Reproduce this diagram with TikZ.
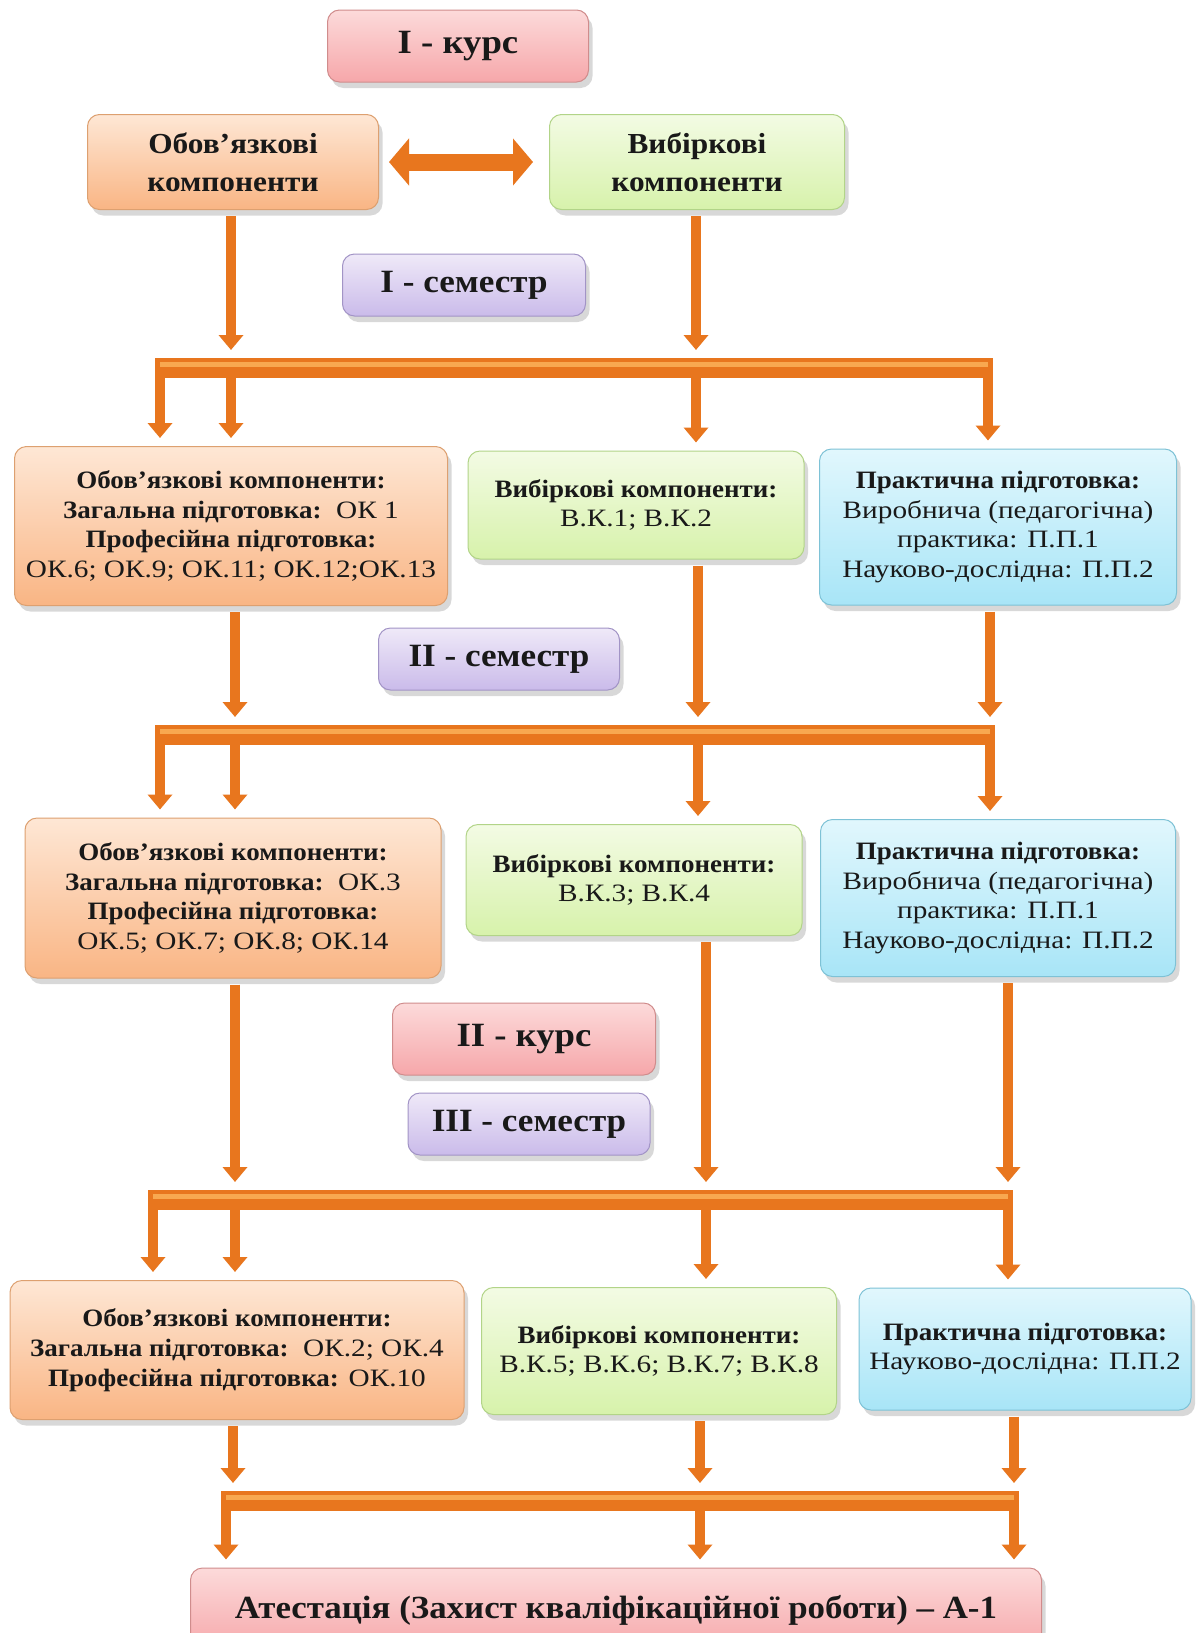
\documentclass[tikz,border=0pt]{standalone}
\usepackage{fontspec}
\setmainfont{Liberation Serif}[UprightFeatures={FakeStretch=1.17}, BoldFeatures={FakeStretch=1.08}]
\usetikzlibrary{arrows.meta, shadows}

\definecolor{pipeorange}{HTML}{E8761E}
\definecolor{pipelight}{HTML}{F8A850}
\definecolor{kurstop}{HTML}{FCDADA}
\definecolor{kursbot}{HTML}{F6A7AA}
\definecolor{kursline}{HTML}{D08C8C}
\definecolor{oktop}{HTML}{FEE7D5}
\definecolor{okbot}{HTML}{F9B584}
\definecolor{okline}{HTML}{DDA070}
\definecolor{vktop}{HTML}{F3FBE4}
\definecolor{vkbot}{HTML}{D7F2AB}
\definecolor{vkline}{HTML}{B2D488}
\definecolor{pptop}{HTML}{E1F7FD}
\definecolor{ppbot}{HTML}{A8E5F7}
\definecolor{ppline}{HTML}{7EC2D6}
\definecolor{semtop}{HTML}{EFE9F8}
\definecolor{sembot}{HTML}{CABBEA}
\definecolor{semline}{HTML}{A294C6}

\tikzstyle{box} = [draw, rounded corners=12pt, line width=1pt, align=center, inner sep=2pt,
	text=black!90, drop shadow={shadow xshift=4pt, shadow yshift=-6pt, opacity=.3}]
\tikzstyle{kurs} = [box, draw=kursline, top color=kurstop, bottom color=kursbot,
	font=\fontsize{34}{40}\selectfont\bfseries]
\tikzstyle{sem} = [box, draw=semline, top color=semtop, bottom color=sembot,
	font=\fontsize{32.5}{40}\selectfont\bfseries]
\tikzstyle{okbox} = [box, draw=okline, top color=oktop, bottom color=okbot,
	font=\fontsize{25}{29.8}\selectfont]
\tikzstyle{vkbox} = [box, draw=vkline, top color=vktop, bottom color=vkbot,
	font=\fontsize{25}{29.8}\selectfont]
\tikzstyle{ppbox} = [box, draw=ppline, top color=pptop, bottom color=ppbot,
	font=\fontsize{25}{29.8}\selectfont]
\tikzstyle{pipe} = [draw=pipeorange, line width=10pt, -{Triangle[width=24pt,length=15pt]}]
\tikzstyle{tobar} = [pipe, shorten <=6pt, shorten >=18pt]
\tikzstyle{tobox} = [pipe, shorten >=8pt]
\tikzstyle{bar} = [draw=pipeorange, line width=20pt, shorten <=-5pt, shorten >=-5pt]
\tikzstyle{shine} = [draw=pipelight, line width=5pt, transform canvas={yshift=4pt}]
\tikzstyle{twoway} = [draw=pipeorange, line width=17pt, shorten <=10pt, shorten >=16pt,
	{Triangle[width=46pt,length=20pt]}-{Triangle[width=46pt,length=20pt]}]

\begin{document}
\begin{tikzpicture}[x=1pt, y=-1pt]
	\clip (0,0) rectangle (1197,1633);
	\fill[white] (0,0) rectangle (1197,1633);

	% first course
	\node[kurs, minimum width=261pt, minimum height=72pt] (kurs1) at (458,46) {I - курс};
	\node[okbox, font=\fontsize{29}{38}\selectfont\bfseries, minimum width=291pt, minimum height=95pt]
		(obov) at (233,162) {Обов’язкові\\компоненти};
	\node[vkbox, font=\fontsize{29}{38}\selectfont\bfseries, minimum width=295pt, minimum height=95pt]
		(vyb) at (697,162) {Вибіркові\\компоненти};
	\draw[twoway] (obov) -- (vyb);
	\node[sem, minimum width=243pt, minimum height=62pt] (sem1) at (464,285) {I - семестр};

	% semester I
	\node[okbox, minimum width=433pt, minimum height=159pt] (ok1) at (231,526) {%
		\textbf{Обов’язкові компоненти:}\\
		\textbf{Загальна підготовка:}~~ОК 1\\
		\textbf{Професійна підготовка:}\\
		ОК.6; ОК.9; ОК.11; ОК.12;ОК.13};
	\node[vkbox, minimum width=336pt, minimum height=108pt] (vk1) at (636,505) {%
		\textbf{Вибіркові компоненти:}\\ В.К.1; В.К.2};
	\node[ppbox, minimum width=357pt, minimum height=156pt] (pp1) at (998,527) {%
		\textbf{Практична підготовка:}\\
		Виробнича (педагогічна)\\
		практика: П.П.1\\
		Науково-дослідна: П.П.2};
	\coordinate (b1w) at (160,368);
	\coordinate (b1e) at (988,368);
	\coordinate (k1) at (231,368);
	\coordinate (v1) at (696,368);
	\draw[tobar] (obov.south -| k1) -- (k1);
	\draw[tobar] (vyb.south -| v1) -- (v1);
	\draw[tobox] (b1w) -- (b1w |- ok1.north);
	\draw[tobox] (k1) -- (k1 |- ok1.north);
	\draw[tobox] (v1) -- (v1 |- vk1.north);
	\draw[tobox] (b1e) -- (b1e |- pp1.north);
	\draw[bar] (b1w) -- (b1e);
	\draw[shine] (b1w) -- (b1e);

	% semester II
	\node[sem, minimum width=241pt, minimum height=62pt] (sem2) at (499,659) {II - семестр};
	\node[okbox, minimum width=416pt, minimum height=160pt] (ok2) at (233,898) {%
		\textbf{Обов’язкові компоненти:}\\
		\textbf{Загальна підготовка:}~~ОК.3\\
		\textbf{Професійна підготовка:}\\
		ОК.5; ОК.7; ОК.8; ОК.14};
	\node[vkbox, minimum width=336pt, minimum height=111pt] (vk2) at (634,880) {%
		\textbf{Вибіркові компоненти:}\\ В.К.3; В.К.4};
	\node[ppbox, minimum width=355pt, minimum height=157pt] (pp2) at (998,898) {%
		\textbf{Практична підготовка:}\\
		Виробнича (педагогічна)\\
		практика: П.П.1\\
		Науково-дослідна: П.П.2};
	\coordinate (b2w) at (160,735);
	\coordinate (b2e) at (990,735);
	\coordinate (k2) at (235,735);
	\coordinate (v2) at (698,735);
	\draw[tobar] (ok1.south -| k2) -- (k2);
	\draw[tobar] (vk1.south -| v2) -- (v2);
	\draw[tobar] (pp1.south -| b2e) -- (b2e);
	\draw[tobox] (b2w) -- (b2w |- ok2.north);
	\draw[tobox] (k2) -- (k2 |- ok2.north);
	\draw[tobox] (v2) -- (v2 |- vk2.north);
	\draw[tobox] (b2e) -- (b2e |- pp2.north);
	\draw[bar] (b2w) -- (b2e);
	\draw[shine] (b2w) -- (b2e);

	% second course, semester III
	\node[kurs, minimum width=263pt, minimum height=72pt] (kurs2) at (524,1039) {II - курс};
	\node[sem, minimum width=242pt, minimum height=62pt] (sem3) at (529,1124) {III - семестр};
	\node[okbox, minimum width=454pt, minimum height=139pt] (ok3) at (237,1350) {%
		\textbf{Обов’язкові компоненти:}\\
		\textbf{Загальна підготовка:}~~ОК.2; ОК.4\\
		\textbf{Професійна підготовка:} ОК.10};
	\node[vkbox, minimum width=355pt, minimum height=127pt] (vk3) at (659,1351) {%
		\textbf{Вибіркові компоненти:}\\ В.К.5; В.К.6; В.К.7; В.К.8};
	\node[ppbox, minimum width=332pt, minimum height=122pt] (pp3) at (1025,1349) {%
		\textbf{Практична підготовка:}\\
		Науково-дослідна: П.П.2};
	\coordinate (b3w) at (153,1200);
	\coordinate (b3e) at (1008,1200);
	\coordinate (k3) at (235,1200);
	\coordinate (v3) at (706,1200);
	\draw[tobar] (ok2.south -| k3) -- (k3);
	\draw[tobar] (vk2.south -| v3) -- (v3);
	\draw[tobar] (pp2.south -| b3e) -- (b3e);
	\draw[tobox] (b3w) -- (b3w |- ok3.north);
	\draw[tobox] (k3) -- (k3 |- ok3.north);
	\draw[tobox] (v3) -- (v3 |- vk3.north);
	\draw[tobox] (b3e) -- (b3e |- pp3.north);
	\draw[bar] (b3w) -- (b3e);
	\draw[shine] (b3w) -- (b3e);

	% attestation
	\node[kurs, font=\fontsize{32.3}{38}\selectfont\bfseries, minimum width=851pt, minimum height=84pt]
		(att) at (616,1610) {Атестація (Захист кваліфікаційної роботи) – А-1};
	\coordinate (b4w) at (226,1501);
	\coordinate (b4e) at (1014,1501);
	\coordinate (k4) at (233,1501);
	\coordinate (v4) at (700,1501);
	\draw[tobar] (ok3.south -| k4) -- (k4);
	\draw[tobar] (vk3.south -| v4) -- (v4);
	\draw[tobar] (pp3.south -| b4e) -- (b4e);
	\draw[tobox] (b4w) -- (b4w |- att.north);
	\draw[tobox] (v4) -- (v4 |- att.north);
	\draw[tobox] (b4e) -- (b4e |- att.north);
	\draw[bar] (b4w) -- (b4e);
	\draw[shine] (b4w) -- (b4e);
\end{tikzpicture}
\end{document}
